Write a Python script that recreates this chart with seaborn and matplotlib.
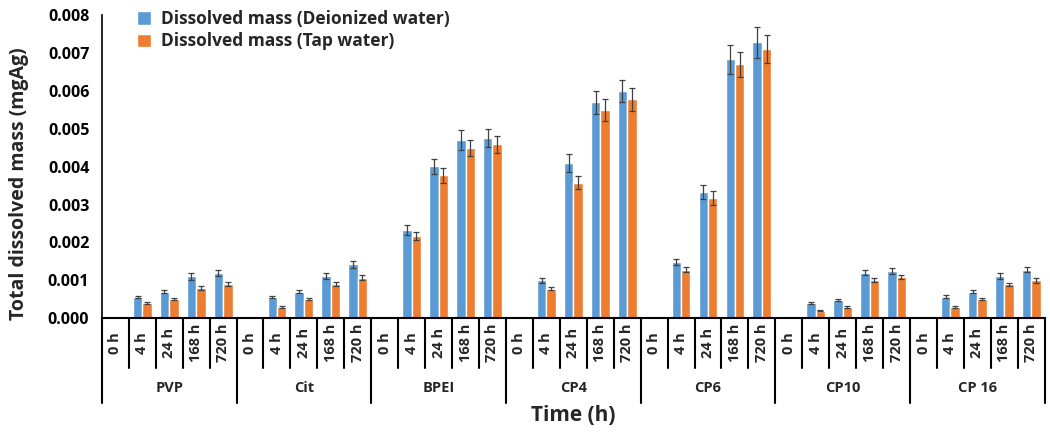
import numpy as np
import pandas as pd
import seaborn as sns
import matplotlib
matplotlib.use("Agg")
import matplotlib.pyplot as plt
from matplotlib.patches import Patch

groups = ["PVP", "Cit", "BPEI", "CP4", "CP6", "CP10", "CP 16"]
times = ["0 h", "4 h", "24 h", "168 h", "720 h"]
series = ["Dissolved mass (Deionized water)", "Dissolved mass (Tap water)"]

deionized = [0, 0.00055, 0.0007, 0.0011, 0.0012,
             0, 0.00055, 0.0007, 0.0011, 0.00142,
             0, 0.00232, 0.00401, 0.0047, 0.00475,
             0, 0.0010, 0.00409, 0.0057, 0.00599,
             0, 0.00148, 0.00333, 0.00683, 0.00728,
             0, 0.0004, 0.00047, 0.0012, 0.00125,
             0, 0.00057, 0.0007, 0.0011, 0.00128]
tap = [0, 0.0004, 0.0005, 0.0008, 0.0009,
       0, 0.0003, 0.0005, 0.0009, 0.00107,
       0, 0.00217, 0.00377, 0.00449, 0.00459,
       0, 0.00078, 0.00358, 0.00549, 0.00578,
       0, 0.00128, 0.00318, 0.0067, 0.0071,
       0, 0.0002, 0.0003, 0.001, 0.00108,
       0, 0.0003, 0.0005, 0.0009, 0.001]
deionized_err = [0, 0.00003, 0.00004, 0.0001, 0.00008,
                 0, 0.00003, 0.00004, 0.00008, 0.0001,
                 0, 0.00013, 0.0002, 0.00026, 0.00024,
                 0, 0.00006, 0.00024, 0.0003, 0.00029,
                 0, 0.00008, 0.00018, 0.00037, 0.0004,
                 0, 0.00002, 0.00003, 0.00006, 0.00008,
                 0, 0.00003, 0.00003, 0.00008, 0.00006]
tap_err = [0, 0.00002, 0.00003, 0.00006, 0.00005,
           0, 0.00002, 0.00003, 0.00005, 0.00007,
           0, 0.0001, 0.0002, 0.00022, 0.00022,
           0, 0.00004, 0.00018, 0.00029, 0.0003,
           0, 0.00006, 0.00018, 0.00034, 0.00037,
           0, 0.00002, 0.00002, 0.00005, 0.00006,
           0, 0.00002, 0.00003, 0.00004, 0.00006]

colors = ["#5B9BD5", "#ED7D31"]

cats = [f"{g}|{t}" for g in groups for t in times]
df = pd.DataFrame({
    "cat": cats * 2,
    "value": deionized + tap,
    "err": deionized_err + tap_err,
    "series": [series[0]] * len(cats) + [series[1]] * len(cats),
})

sns.set_theme(style="white")
plt.rcParams["font.family"] = ["Open Sans", "DejaVu Sans"]
plt.rcParams["font.weight"] = "bold"

fig = plt.figure(figsize=(10.5, 4.34), dpi=100)
ax = fig.add_axes([0.097, 0.267, 0.898, 0.698])

sns.barplot(data=df, x="cat", y="value", hue="series", order=cats,
            hue_order=series, palette=colors, errorbar=None, width=0.7,
            saturation=1, ax=ax, legend=False)

# error bars at bar centres
for cont, s in zip(ax.containers, series):
    sub = df[df["series"] == s].set_index("cat").loc[cats]
    xs = [p.get_x() + p.get_width() / 2 for p in cont.patches]
    hs = [p.get_height() for p in cont.patches]
    mask = np.array(hs) > 0
    ax.errorbar(np.array(xs)[mask], np.array(hs)[mask],
                yerr=sub["err"].values[mask], fmt="none",
                ecolor="#404040", elinewidth=0.9, capsize=2.5, capthick=0.9)

n = len(cats)
ax.set_xlim(-0.5, n - 0.5)
ax.set_ylim(0, 0.008)
ax.set_yticks(np.arange(0, 0.0081, 0.001))
ax.set_yticklabels([f"{v:.3f}" for v in np.arange(0, 0.0081, 0.001)],
                   fontsize=11.5, fontweight="bold")
ax.tick_params(axis="y", direction="inout", length=6, width=1.2, colors="black", pad=6)
ax.set_xticks([])
ax.set_xlabel("")
ax.set_ylabel("Total dissolved mass (mgAg)", fontsize=14, fontweight="bold")
ax.yaxis.set_label_coords(-0.077, 0.445)
for sp in ["top", "right"]:
    ax.spines[sp].set_visible(False)
ax.spines["left"].set_color("black")
ax.spines["left"].set_linewidth(1.2)
ax.spines["bottom"].set_color("black")
ax.spines["bottom"].set_linewidth(1.5)

# multi-level category axis
trans = ax.get_xaxis_transform()
for i in range(n + 1):
    x = i - 0.5
    is_group = (i % len(times) == 0)
    ylow = -0.28 if is_group else -0.165
    ax.plot([x, x], [0, ylow], color="black", lw=1.5, transform=trans, clip_on=False)
for i, c in enumerate(cats):
    t = c.split("|")[1]
    ax.text(i, -0.0825, t, rotation=90, ha="center", va="center",
            fontsize=10.5, fontweight="bold", transform=trans)
for gi, g in enumerate(groups):
    xc = gi * len(times) + (len(times) - 1) / 2
    ax.text(xc, -0.231, g, ha="center", va="center", fontsize=10.5,
            fontweight="bold", transform=trans)
ax.text(0.5, -0.32, "Time (h)", ha="center", va="center", fontsize=15,
        fontweight="bold", transform=ax.transAxes)

handles = [Patch(facecolor=colors[0]), Patch(facecolor=colors[1])]
leg = ax.legend(handles, series, loc="upper left", bbox_to_anchor=(0.03, 1.04),
                frameon=False, fontsize=12.5, handlelength=0.8, handleheight=0.8,
                handletextpad=0.6, labelspacing=0.25, borderaxespad=0)
for txt in leg.get_texts():
    txt.set_fontweight("bold")

fig.savefig("out.png", dpi=100)
